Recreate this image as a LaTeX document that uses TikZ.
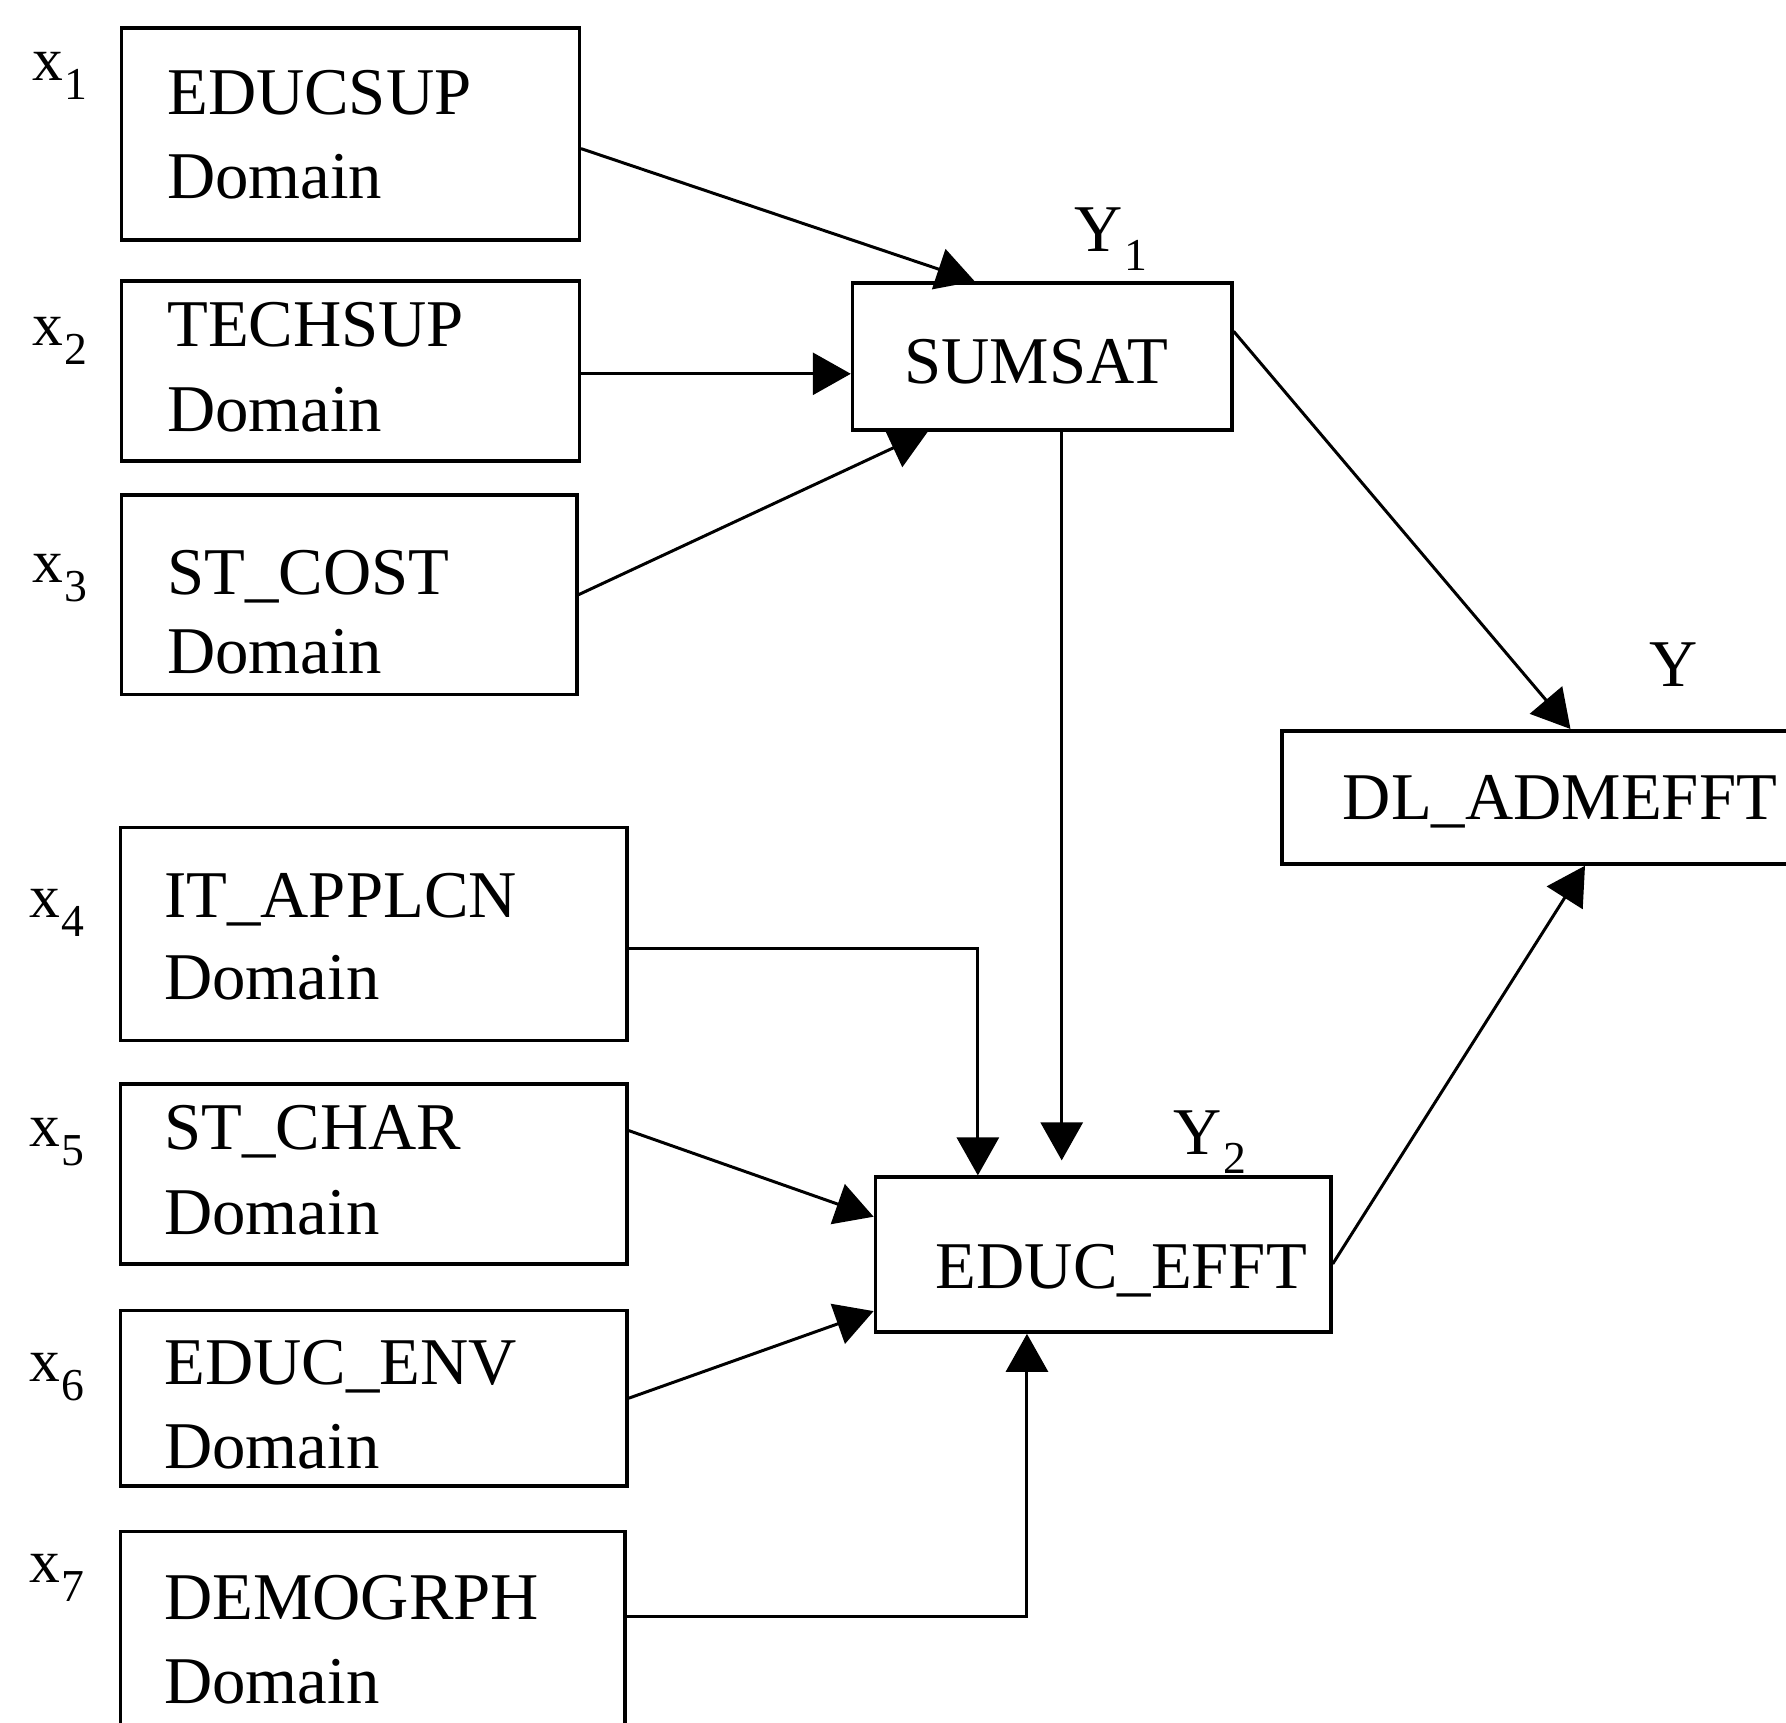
\documentclass[tikz,border=0pt]{standalone}
\usepackage{fontspec}
\setmainfont{Liberation Serif}
\usetikzlibrary{arrows.meta}

\tikzset{
  box/.style={draw, line width=1pt, rectangle, inner sep=0pt, anchor=north west},
  txt/.style={inner sep=0pt, anchor=base west, font=\fontsize{19}{23}\selectfont},
  lbl/.style={inner sep=0pt, anchor=base west, font=\fontsize{17.5}{20}\selectfont},
  ylbl/.style={inner sep=0pt, anchor=base west, font=\fontsize{19}{22}\selectfont},
  arr/.style={line width=0.85pt, -{Triangle[length=3.8mm, width=4.2mm]}},
}
% lowered index digit used by the variable labels
\newcommand{\idx}[1]{\kern0.5pt\raisebox{-0.19cm}{\fontsize{13}{14}\selectfont #1}}

\begin{document}
\begin{tikzpicture}
\useasboundingbox (0,0) rectangle (17.86,-17.23);

% input boxes
\node[box, minimum width=4.579cm, minimum height=2.119cm] (b1) at (1.196,-0.262) {};
\node[box, minimum width=4.579cm, minimum height=1.799cm] (b2) at (1.196,-2.791) {};
\node[box, minimum width=4.556cm, minimum height=1.993cm] (b3) at (1.196,-4.932) {};
\node[box, minimum width=5.068cm, minimum height=2.130cm] (b6) at (1.185,-8.258) {};
\node[box, minimum width=5.068cm, minimum height=1.799cm] (b7) at (1.185,-10.821) {};
\node[box, minimum width=5.068cm, minimum height=1.754cm] (b8) at (1.185,-13.087) {};
\node[box, minimum width=5.045cm, minimum height=2.300cm] (b9) at (1.185,-15.297) {};

% intermediate and outcome boxes
\node[box, minimum width=3.793cm, minimum height=1.470cm] (b4) at (8.508,-2.813) {};
\node[box, minimum width=4.556cm, minimum height=1.549cm] (b10) at (8.736,-11.754) {};
\node[box, minimum width=5.300cm, minimum height=1.332cm] (b5) at (12.802,-7.290) {};

% box texts
\node[txt] (t1a) at (1.665,-1.148) {EDUCSUP};
\node[txt] (t1b) at (1.665,-1.983) {Domain};
\node[txt] (t2a) at (1.665,-3.465) {TECHSUP};
\node[txt] (t2b) at (1.665,-4.315) {Domain};
\node[txt] (t3a) at (1.665,-5.944) {ST\_COST};
\node[txt] (t3b) at (1.665,-6.738) {Domain};
\node[txt] (t6a) at (1.636,-9.171) {IT\_APPLCN};
\node[txt] (t6b) at (1.636,-9.995) {Domain};
\node[txt] (t7a) at (1.636,-11.499) {ST\_CHAR};
\node[txt] (t7b) at (1.636,-12.341) {Domain};
\node[txt] (t8a) at (1.636,-13.844) {EDUC\_ENV};
\node[txt] (t8b) at (1.636,-14.686) {Domain};
\node[txt] (t9a) at (1.636,-16.190) {DEMOGRPH};
\node[txt] (t9b) at (1.636,-17.032) {Domain};
\node[txt] (t4) at (9.038,-3.839) {SUMSAT};
\node[txt] (t10) at (9.352,-12.884) {EDUC\_EFFT};
\node[txt] (t5) at (13.422,-8.196) {DL\_ADMEFFT};

% variable labels
\node[lbl] (x1) at (0.316,-0.804) {x\idx{1}};
\node[lbl] (x2) at (0.316,-3.452) {x\idx{2}};
\node[lbl] (x3) at (0.316,-5.829) {x\idx{3}};
\node[lbl] (x4) at (0.287,-9.171) {x\idx{4}};
\node[lbl] (x5) at (0.287,-11.469) {x\idx{5}};
\node[lbl] (x6) at (0.287,-13.814) {x\idx{6}};
\node[lbl] (x7) at (0.287,-15.829) {x\idx{7}};
\node[ylbl] (y1) at (10.736,-2.513) {Y\idx{1}};
\node[ylbl] (y2) at (11.724,-11.546) {Y\idx{2}};
\node[ylbl] (y0) at (16.49,-6.866) {Y};

% paths into SUMSAT
\draw[arr] ([yshift=-0.147cm]b1.east) -- ([xshift=-0.675cm]b4.north);
\draw[arr] ([yshift=-0.03cm]b2.east) -- ([yshift=-0.03cm]b2.east -| b4.west);
\draw[arr] (b3.east) -- ([xshift=-1.145cm]b4.south);

% paths into EDUC_EFFT
\draw[arr, shorten >=0.15cm] ([xshift=0.195cm]b4.south) -- ([xshift=0.195cm]b4.south |- b10.north);
\draw[arr] ([yshift=-0.149cm]b6.east) -| ([xshift=-1.253cm]b10.north);
\draw[arr] ([yshift=0.432cm]b7.east) -- ([yshift=0.379cm]b10.west);
\draw[arr] (b8.east) -- ([yshift=-0.565cm]b10.west);
\draw[arr] ([yshift=-0.863cm]b9.north east) -| ([xshift=-0.762cm]b10.south);

% paths into DL_ADMEFFT
\draw[arr] ([yshift=0.253cm]b4.east) -- ([xshift=2.903cm]b5.north west);
\draw[arr] ([yshift=-0.093cm]b10.east) -- ([xshift=3.048cm]b5.south west);
\end{tikzpicture}
\end{document}
